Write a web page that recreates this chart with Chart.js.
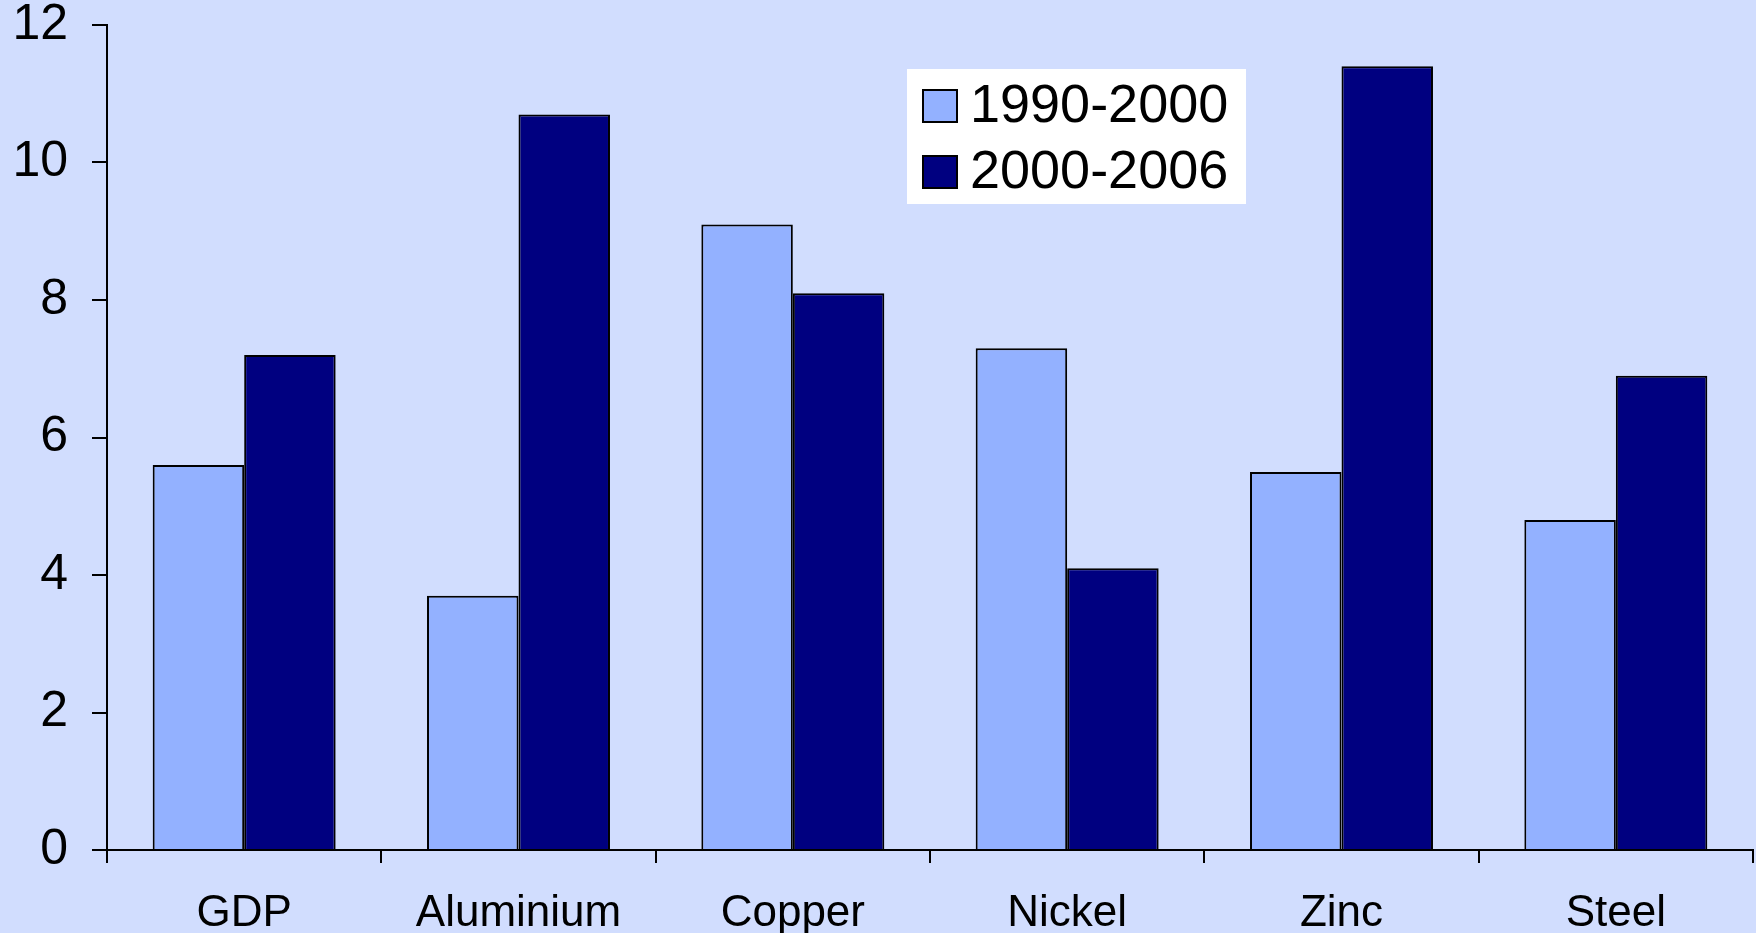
<!DOCTYPE html>
<html>
<head>
<meta charset="utf-8">
<script src="https://cdn.jsdelivr.net/npm/chart.js@4"></script>
<style>
  html, body { margin: 0; padding: 0; background: #D1DDFE; }
  canvas { display: block; }
</style>
</head>
<body>
<canvas id="chart" width="1756" height="933"></canvas>
<script>
const categories = ["GDP", "Aluminium", "Copper", "Nickel", "Zinc", "Steel"];
const seriesNames = ["1990-2000", "2000-2006"];
const values1990 = [5.6, 3.7, 9.1, 7.3, 5.5, 4.8];
const values2000 = [7.2, 10.7, 8.1, 4.1, 11.4, 6.9];
const yTicks = [0, 2, 4, 6, 8, 10, 12];

const FONT = "'Liberation Sans', Arial, sans-serif";

// white boxed legend floating in the top right of the plot
const boxLegend = {
    id: "boxLegend",
    afterDraw(chart) {
        const ctx = chart.ctx;
        ctx.save();
        ctx.fillStyle = "#ffffff";
        ctx.fillRect(907, 69, 339, 135);
        ctx.font = "54px " + FONT;
        ctx.textBaseline = "middle";
        chart.data.datasets.forEach((ds, i) => {
            const y = 106 + i * 66;
            ctx.fillStyle = ds.backgroundColor;
            ctx.fillRect(923, y - 16, 34, 32);
            ctx.strokeStyle = "#000";
            ctx.lineWidth = 2;
            ctx.strokeRect(923, y - 16, 34, 32);
            ctx.fillStyle = "#000";
            ctx.fillText(ds.label, 970, y + 1);
        });
        ctx.restore();
    }
};

new Chart(document.getElementById("chart"), {
    type: "bar",
    data: {
        labels: categories,
        datasets: [
            {
                label: seriesNames[0],
                data: values1990,
                backgroundColor: "#93B1FF",
                borderColor: "#000000",
                borderWidth: 2,
            },
            {
                label: seriesNames[1],
                data: values2000,
                backgroundColor: "#000080",
                borderColor: "#000000",
                borderWidth: 2,
            },
        ],
    },
    options: {
        responsive: false,
        animation: false,
        categoryPercentage: 0.667,
        barPercentage: 1.0,
        layout: { padding: { top: 25, right: 3, left: 0, bottom: 0 } },
        plugins: {
            legend: { display: false },
            tooltip: { enabled: false },
        },
        scales: {
            x: {
                grid: { display: true, drawOnChartArea: false, tickLength: 13, color: "#000", lineWidth: 2, offset: true },
                border: { display: true, color: "#000", width: 2 },
                ticks: { color: "#000", font: { family: FONT, size: 44, lineHeight: 1.2 }, padding: 24, maxRotation: 0 },
                afterFit(scale) { scale.height = 83; },
            },
            y: {
                min: 0,
                max: 12,
                afterBuildTicks(scale) { scale.ticks = yTicks.map(v => ({ value: v })); },
                grid: { display: true, drawOnChartArea: false, tickLength: 15, color: "#000", lineWidth: 2 },
                border: { display: true, color: "#000", width: 2 },
                ticks: { color: "#000", font: { family: FONT, size: 50, lineHeight: 1.1 }, padding: 24 },
                afterFit(scale) {
                    scale.width = 107;
                    scale.paddingTop = 0;
                    scale.paddingBottom = 0;
                },
            },
        },
    },
    plugins: [boxLegend],
});
</script>
</body>
</html>
